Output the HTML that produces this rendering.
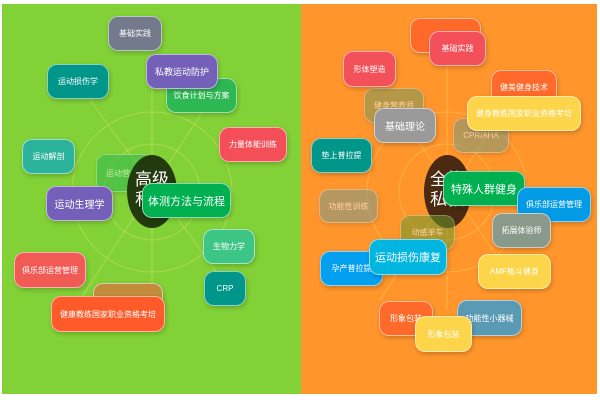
<!DOCTYPE html>
<html><head><meta charset="utf-8"><style>
body{margin:0;width:600px;height:400px;background:#fff;position:relative;overflow:hidden;font-family:"Liberation Sans","Noto Sans CJK SC",sans-serif}
.p{position:absolute;top:4px;height:390px}
.b{position:absolute;border-radius:10px;border:1px solid rgba(255,255,255,.55);color:#fff;display:flex;align-items:center;justify-content:center;font-size:8px;box-shadow:1px 2px 4px rgba(0,0,0,.2);box-sizing:border-box;white-space:nowrap}
.f{opacity:.55}
.e{position:absolute;border-radius:50%}
.ct{position:absolute;color:#fff;font-size:17px;line-height:20px;text-align:center}
</style></head><body>
<div class="p" style="left:2px;width:299px;background:#82d137"></div>
<div class="p" style="left:301px;width:296px;background:#ff952b"></div>
<svg width="600" height="400" style="position:absolute;left:0;top:0">
<g fill="none" stroke="#c8e060" stroke-opacity=".6" stroke-width="1">
<circle cx="152" cy="192" r="80"/><circle cx="152" cy="192" r="48"/>
<line x1="152" y1="80" x2="152" y2="300"/><line x1="90" y1="100" x2="230" y2="290"/><line x1="210" y1="100" x2="80" y2="300"/>
</g>
<g fill="none" stroke="#ffc850" stroke-opacity=".6" stroke-width="1">
<circle cx="447" cy="192" r="80"/><circle cx="447" cy="192" r="48"/>
<line x1="447" y1="66" x2="447" y2="310"/><line x1="390" y1="100" x2="520" y2="290"/><line x1="510" y1="100" x2="380" y2="300"/>
</g></svg>
<div class="b f" style="left:96px;top:154px;width:60px;height:38px;background:#2db854">运动营养学</div>
<div class="e" style="left:127px;top:155px;width:50px;height:73px;background:#233a0e"></div>
<div class="ct" style="left:132px;top:170px;width:40px">高级<br>私教</div>
<div class="b" style="left:108px;top:16px;width:54px;height:35px;background:#727a8c">基础实践</div>
<div class="b" style="left:47px;top:64px;width:62px;height:35px;background:#00968a">运动损伤学</div>
<div class="b" style="left:166px;top:78px;width:71px;height:35px;background:#2db854">饮食计划与方案</div>
<div class="b" style="left:146px;top:54px;width:72px;height:35px;background:#7460b8;font-size:9px">私教运动防护</div>
<div class="b" style="left:219px;top:127px;width:68px;height:35px;background:#f44f58">力量体能训练</div>
<div class="b" style="left:22px;top:139px;width:53px;height:35px;background:#2bb39b">运动解剖</div>
<div class="b" style="left:46px;top:186px;width:67px;height:35px;background:#7460b8;font-size:10px">运动生理学</div>
<div class="b" style="left:142px;top:183px;width:89px;height:35px;background:#00b050;font-size:11px">体测方法与流程</div>
<div class="b" style="left:203px;top:229px;width:52px;height:35px;background:#3cc585">生物力学</div>
<div class="b" style="left:204px;top:271px;width:42px;height:35px;background:#00968a">CRP</div>
<div class="b" style="left:14px;top:252px;width:72px;height:36px;background:#f25a55">俱乐部运营管理</div>
<div class="b" style="left:93px;top:283px;width:70px;height:35px;background:#c38c3c"></div>
<div class="b" style="left:51px;top:296px;width:114px;height:36px;background:#ff5a2a">健康教练国家职业资格考培</div>

<div class="b f" style="left:364px;top:88px;width:60px;height:35px;background:#7a9a60">健身营养师</div>
<div class="b f" style="left:453px;top:118px;width:56px;height:35px;background:#7a9a80">CPR/AHA</div>
<div class="b f" style="left:319px;top:189px;width:59px;height:34px;background:#7a9a90">功能性训练</div>
<div class="e" style="left:424px;top:155px;width:47px;height:73px;background:#4a2a10"></div>
<div class="ct" style="left:427px;top:170px;width:40px">全能<br>私教</div>
<div class="b f" style="left:400px;top:215px;width:55px;height:35px;background:#6a9a30">动感单车</div>
<div class="b" style="left:410px;top:18px;width:71px;height:35px;background:#ff6a2a">健身</div>
<div class="b" style="left:429px;top:31px;width:57px;height:35px;background:#f4505a">基础实践</div>
<div class="b" style="left:343px;top:51px;width:53px;height:36px;background:#f4505a">形体塑造</div>
<div class="b" style="left:491px;top:70px;width:66px;height:34px;background:#ff6a2a">健美健身技术</div>
<div class="b" style="left:374px;top:108px;width:62px;height:35px;background:#9a9a9a;font-size:10px">基础理论</div>
<div class="b" style="left:467px;top:96px;width:114px;height:35px;background:#fdd54a">健身教练国家职业资格考培</div>
<div class="b" style="left:311px;top:138px;width:61px;height:35px;background:#00968a">垫上普拉提</div>
<div class="b" style="left:443px;top:171px;width:82px;height:35px;background:#00b050;font-size:11px">特殊人群健身</div>
<div class="b" style="left:517px;top:187px;width:74px;height:35px;background:#039be5">俱乐部运营管理</div>
<div class="b" style="left:492px;top:213px;width:59px;height:35px;background:#8a9a8a">拓展体验师</div>
<div class="b" style="left:320px;top:251px;width:63px;height:35px;background:#03a0f0">孕产普拉提</div>
<div class="b" style="left:369px;top:239px;width:78px;height:36px;background:#00b5e0;font-size:11px">运动损伤康复</div>
<div class="b" style="left:478px;top:254px;width:73px;height:35px;background:#fdd54a">AMF格斗健身</div>
<div class="b" style="left:379px;top:301px;width:54px;height:35px;background:#ff6a2a">形象包装</div>
<div class="b" style="left:457px;top:300px;width:65px;height:36px;background:#5a9ab5">功能性小器械</div>
<div class="b" style="left:415px;top:316px;width:57px;height:36px;background:#fdd54a">形象包装</div>
</body></html>
